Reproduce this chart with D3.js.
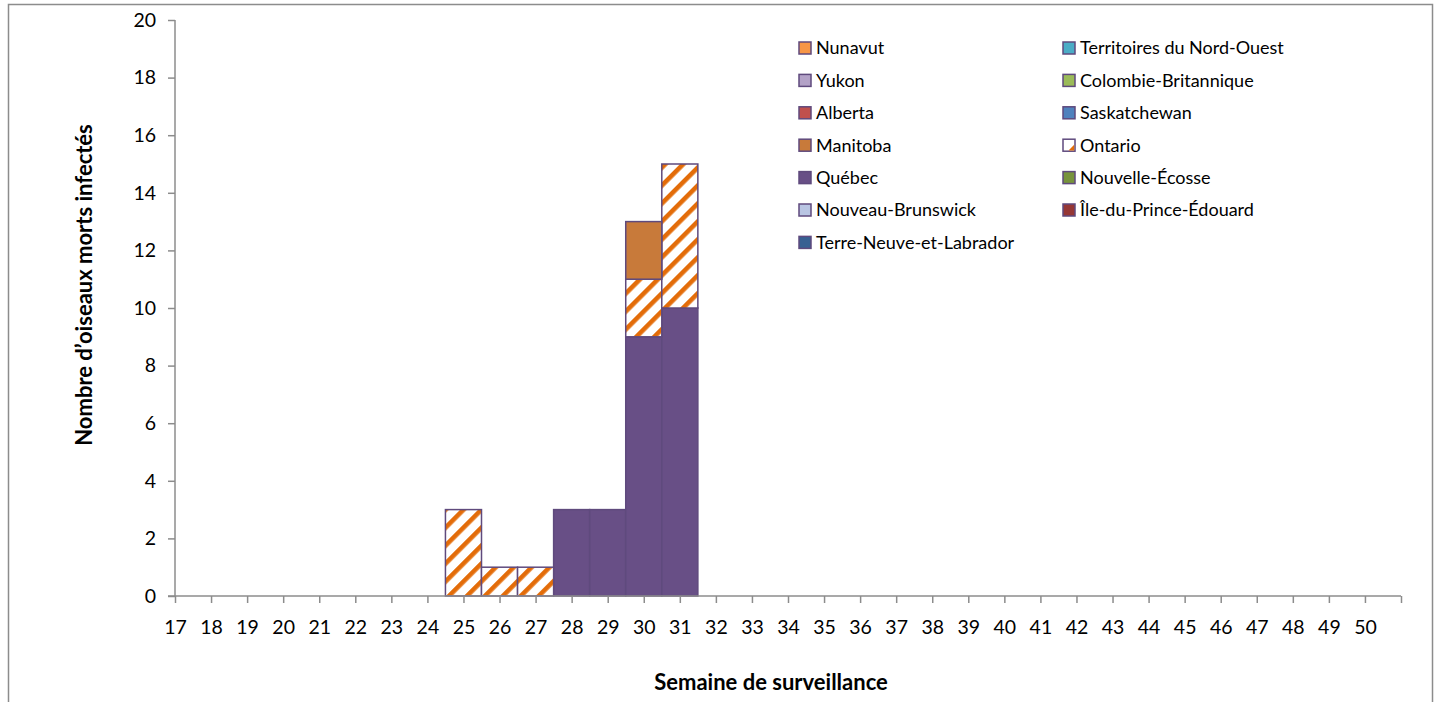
<!DOCTYPE html>
<html>
<head>
<meta charset="utf-8">
<script src="https://cdn.jsdelivr.net/npm/d3@7"></script>
<style>
  body { margin: 0; background: #fff; }
  svg { display: block; font-family: Lato, "Open Sans", sans-serif; }
  .axis path, .axis line { stroke: #8c8c8c; stroke-width: 1.5px; }
  .axis text { fill: #000; font-size: 19.5px; font-family: Lato, sans-serif; }
</style>
</head>
<body>
<svg id="chart" width="1438" height="702"></svg>
<script>
// weeks on the x axis
var weeks = [17,18,19,20,21,22,23,24,25,26,27,28,29,30,31,32,33,34,35,36,37,38,39,40,41,42,43,44,45,46,47,48,49,50];

// legend order
var provinces = ['Nunavut','Territoires du Nord-Ouest','Yukon','Colombie-Britannique','Alberta','Saskatchewan',
  'Manitoba','Ontario','Québec','Nouvelle-Écosse','Nouveau-Brunswick','Île-du-Prince-Édouard','Terre-Neuve-et-Labrador'];

var colors = ['#f79646','#4bacc6','#b3a2c7','#9bbb59','#c0504d','#4f81bd',
  '#c87a3a','url(#stripes)','#684f86','#77933c','#b9c5e3','#953735','#376092'];

// counts per week (17 .. 50)
var nunavut      = [0,0,0,0,0,0,0,0,0,0,0,0,0,0,0,0,0,0,0,0,0,0,0,0,0,0,0,0,0,0,0,0,0,0];
var tno          = [0,0,0,0,0,0,0,0,0,0,0,0,0,0,0,0,0,0,0,0,0,0,0,0,0,0,0,0,0,0,0,0,0,0];
var yukon        = [0,0,0,0,0,0,0,0,0,0,0,0,0,0,0,0,0,0,0,0,0,0,0,0,0,0,0,0,0,0,0,0,0,0];
var colombieB    = [0,0,0,0,0,0,0,0,0,0,0,0,0,0,0,0,0,0,0,0,0,0,0,0,0,0,0,0,0,0,0,0,0,0];
var alberta      = [0,0,0,0,0,0,0,0,0,0,0,0,0,0,0,0,0,0,0,0,0,0,0,0,0,0,0,0,0,0,0,0,0,0];
var saskatchewan = [0,0,0,0,0,0,0,0,0,0,0,0,0,0,0,0,0,0,0,0,0,0,0,0,0,0,0,0,0,0,0,0,0,0];
var manitoba     = [0,0,0,0,0,0,0,0,0,0,0,0,0,2,0,0,0,0,0,0,0,0,0,0,0,0,0,0,0,0,0,0,0,0];
var ontario      = [0,0,0,0,0,0,0,0,3,1,1,0,0,2,5,0,0,0,0,0,0,0,0,0,0,0,0,0,0,0,0,0,0,0];
var quebec       = [0,0,0,0,0,0,0,0,0,0,0,3,3,9,10,0,0,0,0,0,0,0,0,0,0,0,0,0,0,0,0,0,0,0];
var nouvelleE    = [0,0,0,0,0,0,0,0,0,0,0,0,0,0,0,0,0,0,0,0,0,0,0,0,0,0,0,0,0,0,0,0,0,0];
var nouveauB     = [0,0,0,0,0,0,0,0,0,0,0,0,0,0,0,0,0,0,0,0,0,0,0,0,0,0,0,0,0,0,0,0,0,0];
var ipe          = [0,0,0,0,0,0,0,0,0,0,0,0,0,0,0,0,0,0,0,0,0,0,0,0,0,0,0,0,0,0,0,0,0,0];
var tnl          = [0,0,0,0,0,0,0,0,0,0,0,0,0,0,0,0,0,0,0,0,0,0,0,0,0,0,0,0,0,0,0,0,0,0];

var series = [nunavut, tno, yukon, colombieB, alberta, saskatchewan, manitoba, ontario, quebec, nouvelleE, nouveauB, ipe, tnl];

var yTicks = [0,2,4,6,8,10,12,14,16,18,20];

// table for d3.stack
var rows = weeks.map(function(w, i){
  var r = { week: w };
  provinces.forEach(function(p, j){ r[p] = series[j][i]; });
  return r;
});

var svg = d3.select('#chart');

// pattern for Ontario
var defs = svg.append('defs');
var pat = defs.append('pattern')
  .attr('id', 'stripes')
  .attr('patternUnits', 'userSpaceOnUse')
  .attr('width', 12.7).attr('height', 12.7)
  .attr('patternTransform', 'rotate(45)');
pat.append('rect').attr('width', 12.7).attr('height', 12.7).attr('fill', '#fff');
pat.append('rect').attr('width', 4.6).attr('height', 12.7).attr('fill', '#e36c09');

// outer frame
svg.append('rect')
  .attr('x', 8.5).attr('y', 4.5)
  .attr('width', 1424).attr('height', 760)
  .attr('fill', 'none')
  .attr('stroke', '#8c8c8c')
  .attr('stroke-width', 1.5);

var x = d3.scaleLinear().domain([17, 51]).range([175, 1401]);
var y = d3.scaleLinear().domain([0, 20]).range([596, 20]);

// stack bottom to top = reverse of legend
var stack = d3.stack().keys(provinces.slice().reverse());
var layers = stack(rows);

var g = svg.append('g');
g.selectAll('g.layer')
  .data(layers)
  .enter().append('g')
  .attr('class', 'layer')
  .attr('fill', function(d){ return colors[provinces.indexOf(d.key)]; })
  .selectAll('rect')
  .data(function(d){ return d.filter(function(v){ return v[1] - v[0] > 0; }); })
  .enter().append('rect')
  .attr('x', function(d){ return x(d.data.week - 0.5); })
  .attr('width', function(d){ return x(d.data.week + 0.5) - x(d.data.week - 0.5); })
  .attr('y', function(d){ return y(d[1]); })
  .attr('height', function(d){ return y(d[0]) - y(d[1]); })
  .attr('stroke', '#5f4a7d')
  .attr('stroke-width', 1.5);

// axes
var xAxis = d3.axisBottom(x)
  .tickValues(weeks.concat([51]))
  .tickSize(7)
  .tickPadding(17)
  .tickFormat(function(d){ return d <= 50 ? d : ''; });

svg.append('g')
  .attr('class', 'axis')
  .attr('transform', 'translate(0,' + y(0) + ')')
  .call(xAxis)
  .call(function(s){ s.select('.domain').attr('d', 'M168,0H' + x(51)); });

var yAxis = d3.axisLeft(y)
  .tickValues(yTicks)
  .tickSize(7)
  .tickPadding(12);

svg.append('g')
  .attr('class', 'axis')
  .attr('transform', 'translate(' + x(17) + ',0)')
  .call(yAxis)
  .call(function(s){ s.select('.domain').attr('d', 'M0,' + y(20) + 'V' + y(0)); });

// axis titles
svg.append('text')
  .attr('transform', 'translate(92,285) rotate(-90)')
  .attr('text-anchor', 'middle')
  .style('font-weight', 'bold')
  .style('font-size', '22px')
  .text('Nombre d\u2019oiseaux morts infectés');

svg.append('text')
  .attr('x', 771).attr('y', 690)
  .attr('text-anchor', 'middle')
  .style('font-weight', 'bold')
  .style('font-size', '22px')
  .text('Semaine de surveillance');

// legend, two columns
var legend = svg.append('g');
var item = legend.selectAll('g')
  .data(provinces)
  .enter().append('g')
  .attr('transform', function(d, i){
    var col = i % 2, row = Math.floor(i / 2);
    return 'translate(' + (799 + col * 264) + ',' + (48 + row * 32.4) + ')';
  });

item.append('rect')
  .attr('x', 0).attr('y', -6)
  .attr('width', 12).attr('height', 12)
  .attr('fill', function(d, i){ return d === 'Ontario' ? '#fff' : colors[i]; })
  .attr('stroke', '#5f4a7d')
  .attr('stroke-width', 1.5);

// Ontario key: white box with an orange corner
item.filter(function(d){ return d === 'Ontario'; })
  .append('path')
  .attr('d', 'M11.2,-0.5L11.2,5.2L5.5,5.2Z')
  .attr('fill', '#e36c09');

item.append('text')
  .attr('x', 17).attr('y', 0)
  .attr('dy', '0.36em')
  .style('font-size', '18px')
  .text(function(d){ return d; });
</script>
</body>
</html>
